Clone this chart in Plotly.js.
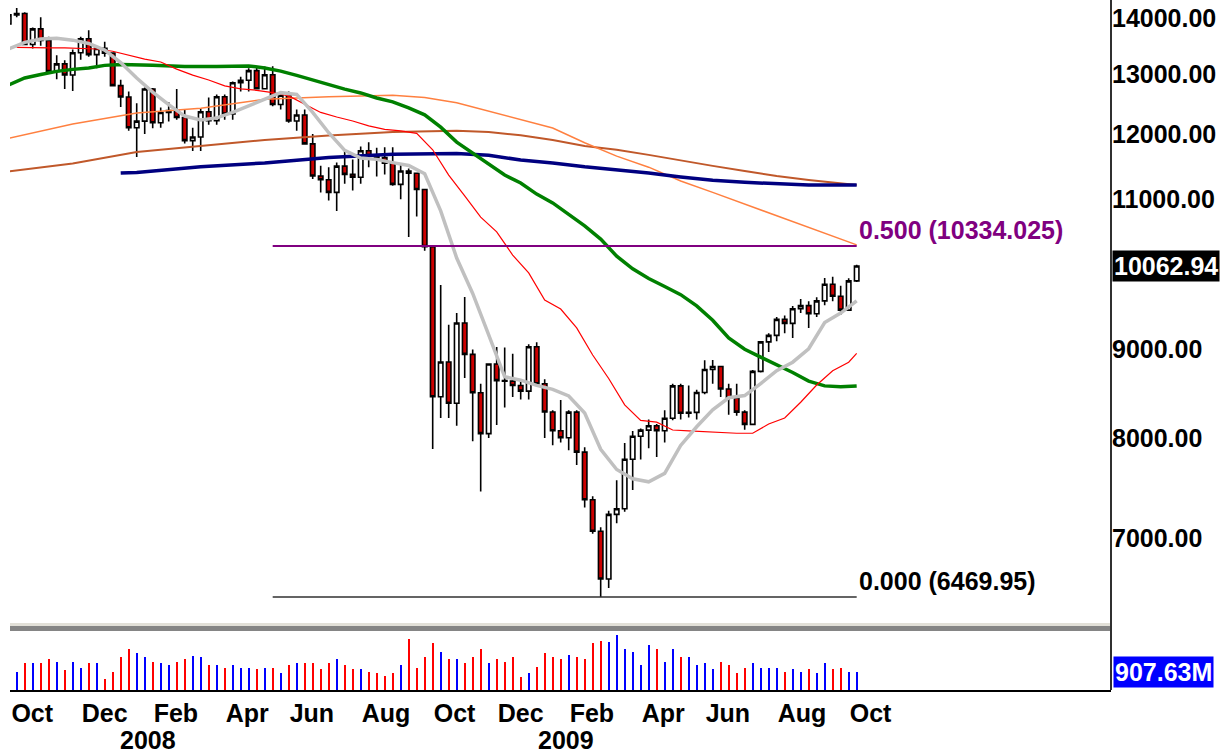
<!DOCTYPE html>
<html><head><meta charset="utf-8">
<script src="https://cdn.plot.ly/plotly-3.0.1.min.js"></script>
<style>body{margin:0;background:#fff}#chart{width:1224px;height:753px}</style>
</head><body><div id="chart"></div>
<script>
// Weekly bars (week starting Monday), index -1 .. 105
const weeks = [
'2007-10-01','2007-10-08','2007-10-15','2007-10-22','2007-10-29','2007-11-05','2007-11-12','2007-11-19','2007-11-26','2007-12-03','2007-12-10','2007-12-17','2007-12-24','2007-12-31',
'2008-01-07','2008-01-14','2008-01-21','2008-01-28','2008-02-04','2008-02-11','2008-02-18','2008-02-25','2008-03-03','2008-03-10','2008-03-17','2008-03-24','2008-03-31','2008-04-07','2008-04-14','2008-04-21','2008-04-28','2008-05-05','2008-05-12','2008-05-19','2008-05-26','2008-06-02','2008-06-09','2008-06-16','2008-06-23','2008-06-30','2008-07-07','2008-07-14','2008-07-21','2008-07-28','2008-08-04','2008-08-11','2008-08-18','2008-08-25','2008-09-01','2008-09-08','2008-09-15','2008-09-22','2008-09-29','2008-10-06','2008-10-13','2008-10-20','2008-10-27','2008-11-03','2008-11-10','2008-11-17','2008-11-24','2008-12-01','2008-12-08','2008-12-15','2008-12-22','2008-12-29',
'2009-01-05','2009-01-12','2009-01-19','2009-01-26','2009-02-02','2009-02-09','2009-02-16','2009-02-23','2009-03-02','2009-03-09','2009-03-16','2009-03-23','2009-03-30','2009-04-06','2009-04-13','2009-04-20','2009-04-27','2009-05-04','2009-05-11','2009-05-18','2009-05-25','2009-06-01','2009-06-08','2009-06-15','2009-06-22','2009-06-29','2009-07-06','2009-07-13','2009-07-20','2009-07-27','2009-08-03','2009-08-10','2009-08-17','2009-08-24','2009-08-31','2009-09-07','2009-09-14','2009-09-21','2009-09-28','2009-10-05','2009-10-12'];

const opens = [13896,14066,14093,13522,13807,13595,13042,13176,12981,13372,13625,13339,13451,13366,
12800,12606,12099,12207,12743,12182,12348,12381,12266,11894,11951,12361,12216,12610,12325,12849,12891,13058,12745,12986,12480,12638,12209,12307,11843,11346,11288,11100,11496,11370,11326,11734,11659,11628,11543,11220,11421,11388,11143,10325,8451,8852,8378,9325,8943,8497,8046,8829,8635,8629,8579,8515,
9034,8599,8281,8077,8001,8280,7850,7366,7063,6627,7224,7279,7776,8018,8083,8131,8076,8212,8575,8268,8277,8500,8764,8799,8540,8438,8280,8146,8743,9093,9172,9370,9321,9505,9544,9441,9605,9820,9665,9487,9865];
const highs = [14115,14198,14117,13830,14020,13660,13330,13240,13430,13660,13780,13460,13570,13380,
12900,12700,12500,12767,12760,12430,12520,12740,12400,12100,12420,12600,12650,12650,12870,12950,13100,13140,13130,13136,12700,12700,12400,12400,12000,11500,11480,11550,11730,11600,11800,11867,11780,11790,11790,11520,11460,11400,11143,10325,9809,9302,9449,9655,9000,8600,8830,9031,9026,8950,8650,9065,
9088,8650,8300,8415,8300,8300,7900,7400,7100,7260,7560,7945,8075,8100,8200,8150,8300,8600,8600,8580,8530,8872,8877,8800,8600,8600,8300,8760,9100,9200,9400,9420,9540,9630,9600,9650,9902,9918,9800,9900,10079];
const lows = [13830,14020,13522,13450,13500,13040,12910,12743,12710,13250,13300,13100,13300,12800,
12440,12050,11635,12000,12090,12100,12200,12230,11850,11730,11730,12150,12150,12230,12230,12700,12700,12740,12740,12450,12400,12180,12050,11830,11300,11100,10980,10827,11230,11130,11230,11479,11340,11370,11200,11000,10460,10750,10270,7882,8214,8214,8130,8665,7965,7449,8000,8138,8330,8450,8420,8420,
8590,8000,7922,7950,7870,7716,7290,7040,6469.95,6548,7140,7250,7463,7772,7891,7800,7950,8190,8200,8220,8200,8480,8600,8450,8250,8240,8087,8140,8730,8970,9100,9200,9140,9450,9263,9400,9550,9600,9430,9480,9850];
const closes = [14066,14093,13522,13807,13595,13042,13176,12981,13372,13625,13339,13451,13366,12800,
12606,12099,12207,12743,12182,12348,12381,12266,11894,11951,12361,12216,12610,12325,12849,12891,13058,12745,12986,12480,12638,12209,12307,11843,11346,11288,11100,11496,11370,11326,11734,11659,11628,11543,11220,11421,11388,11143,10325,8451,8852,8378,9325,8943,8497,8046,8829,8635,8629,8579,8515,9034,
8599,8281,8077,8001,8280,7850,7366,7063,6627,7224,7279,7776,8018,8083,8131,8076,8212,8575,8268,8277,8500,8764,8799,8540,8438,8280,8146,8743,9093,9172,9370,9321,9505,9544,9441,9605,9820,9665,9487,9865,10062.94];
// weekly volume, millions of shares
const volumes = [1100,908,1324,1324,1324,1523,1404,992,1404,1106,1324,1324,531,908,
1622,2019,1820,1622,1404,1324,1225,1404,1523,1701,1622,1225,1225,1106,1225,1106,1106,1027,1106,1106,828,1225,1324,1324,1324,1027,1324,1523,1225,1027,1027,908,828,694,828,1225,2515,1106,1622,2316,1900,1523,1523,1324,1622,2019,1324,1523,1404,1622,630,828,
1126,1820,1622,1523,1721,1622,1523,2316,2415,2400,2728,2019,1900,1225,2217,2019,1404,2019,1622,1622,1225,1324,1027,1404,1225,828,1106,1324,1106,1106,1106,908,1027,908,1027,828,1324,1027,1106,908,907.63];

// Moving averages (bar index -> value)
const grayIdx = [-1,1,3,5,7,9,11,13,15,17,19,21,23,25,27,29,31,33,35,37,39,41,43,45,47,49,51,53,55,57,59,61,63,65,67,69,71,73,75,77,79,81,83,85,87,89,91,93,95,97,99,101,103,105];
const grayVal = [13440,13560,13620,13635,13600,13540,13420,13200,12930,12690,12480,12290,12225,12260,12350,12460,12575,12680,12650,12350,12020,11740,11620,11600,11550,11505,11380,10830,10170,9700,9180,8680,8640,8580,8535,8460,8270,7880,7670,7575,7545,7630,7920,8120,8305,8440,8465,8600,8750,8850,9010,9330,9450,9605];
const redIdx = [0,2,4,6,8,10,12,14,16,18,20,22,24,26,28,30,32,34,36,38,40,42,44,46,48,50,52,54,56,58,60,62,64,66,68,70,72,74,76,78,80,82,84,86,88,90,92,94,96,98,100,102,104,105];
const redVal = [13470,13460,13460,13460,13450,13440,13400,13330,13260,13210,13085,12980,12895,12795,12745,12720,12680,12625,12490,12350,12275,12210,12130,12075,12050,12010,11750,11360,11050,10740,10530,10210,9970,9615,9500,9265,8935,8660,8360,8190,8170,8085,8075,8065,8060,8050,8050,8150,8215,8390,8585,8750,8850,8955];
const greenIdx = [-1,1,3,5,7,9,11,13,17,21,25,29,31,33,35,37,39,41,43,45,47,49,51,53,55,57,59,61,63,65,67,69,71,73,75,77,79,81,83,85,87,89,91,93,95,97,99,101,103,105];
const greenVal = [12810,12930,12990,13045,13080,13105,13150,13165,13150,13130,13130,13140,13105,13050,12975,12895,12825,12740,12675,12590,12525,12425,12310,12110,11870,11700,11530,11360,11240,11075,10945,10785,10615,10430,10195,10025,9895,9790,9685,9540,9360,9140,9005,8910,8820,8730,8630,8575,8565,8575];
const orangeIdx = [-1,7,15,23,31,39,47,51,55,59,63,67,71,75,79,83,87,91,95,99,103,105];
const orangeVal = [11930,12160,12340,12420,12570,12610,12635,12600,12510,12370,12240,12095,11860,11650,11480,11270,11100,10930,10755,10600,10430,10350];
const brownIdx = [-1,7,15,23,31,39,47,55,59,63,67,71,75,79,83,87,91,95,99,103,105];
const brownVal = [11415,11535,11715,11810,11905,11975,12030,12050,12030,11980,11905,11810,11750,11670,11590,11500,11420,11345,11285,11240,11210];
const navyIdx = [13,15,23,31,39,47,55,59,63,67,71,75,79,83,87,91,95,99,103,105];
const navyVal = [11390,11400,11485,11545,11630,11680,11690,11665,11590,11545,11485,11440,11390,11330,11280,11250,11225,11210,11210,11210];

// Fibonacci retracement
const fibStart = '2008-05-19', fibEnd = '2009-10-12';
const fibValues = [10334.025, 6469.95];
const fibLabels = ['0.500 (10334.025)', '0.000 (6469.95)'];
const fibColors = ['#800080', '#000000'];

// Axis labels
const priceTicks = [7000, 8000, 9000, 11000, 12000, 13000, 14000];
const priceTickText = ['7000.00','8000.00','9000.00','11000.00','12000.00','13000.00','14000.00'];
const monthTickDates = ['2007-10-02 12:00','2007-12-03','2008-02-04','2008-04-07','2008-06-02','2008-08-04','2008-10-06','2008-12-01','2009-02-02','2009-04-06','2009-06-01','2009-08-03','2009-10-05'];
const monthLabels = ['Oct','Dec','Feb','Apr','Jun','Aug','Oct','Dec','Feb','Apr','Jun','Aug','Oct'];
const yearLabels = ['2008','2009'];
const yearDates = ['2008-01-31','2009-01-31'];
const lastPrice = 10062.94, lastVolume = 907.63;

const FONT = 'Liberation Sans, Arial, sans-serif';
const FS = 25;
const wk = i => weeks[i + 1];

const maLine = (idx, val, color, width) => ({
  type:'scatter', mode:'lines', x: idx.map(wk), y: val, xaxis:'x', yaxis:'y',
  line:{color:color, width:width}, hoverinfo:'skip'
});

const volColors = closes.map((c, i) => (i === 0 || c >= closes[i-1]) ? '#0000ff' : '#ff0000');

const traces = [
  maLine(brownIdx, brownVal, '#c0582a', 2),
  maLine(orangeIdx, orangeVal, '#ff8040', 1.5),
  maLine(navyIdx, navyVal, '#000080', 3.5),
  maLine(greenIdx, greenVal, '#008000', 3.5),
  maLine(redIdx, redVal, '#ff0000', 1.2),
  maLine(grayIdx, grayVal, '#c0c0c0', 3.5),
  {type:'scatter', mode:'lines', x:[fibStart, fibEnd], y:[fibValues[0], fibValues[0]], line:{color:fibColors[0], width:2}, xaxis:'x', yaxis:'y', hoverinfo:'skip'},
  {type:'scatter', mode:'lines', x:[fibStart, fibEnd], y:[fibValues[1], fibValues[1]], line:{color:'#303030', width:1.6}, xaxis:'x', yaxis:'y', hoverinfo:'skip'},
  {type:'candlestick', x: weeks, open: opens, high: highs, low: lows, close: closes, xaxis:'x', yaxis:'y',
    whiskerwidth:0,
    increasing:{line:{color:'#000000', width:1.6}, fillcolor:'#ffffff'},
    decreasing:{line:{color:'#000000', width:1.6}, fillcolor:'#cc0000'}},
  {type:'bar', x: weeks, y: volumes, xaxis:'x', yaxis:'y2', width: 1.75*86400000,
    marker:{color: volColors, line:{width:0}}}
];

const PLOT_H = 690;
const py = px => (PLOT_H - px) / PLOT_H;

const annotations = [
  {xref:'paper', x:1, xanchor:'left', xshift:1, yref:'y', y:Math.log10(lastPrice), yanchor:'middle',
   text:lastPrice.toFixed(2), showarrow:false, bgcolor:'#000000', borderpad:1,
   font:{family:FONT, size:FS, weight:700, color:'#ffffff'}},
  {xref:'paper', x:1, xanchor:'left', xshift:2, yref:'y2', y:lastVolume, yanchor:'middle',
   text:lastVolume.toFixed(2)+'M', showarrow:false, bgcolor:'#0000ff', borderpad:1,
   font:{family:FONT, size:FS, weight:700, color:'#ffffff'}}
];
fibValues.forEach((v, k) => annotations.push({
  xref:'x', x:fibEnd, xanchor:'left', xshift:0, yref:'y', y:Math.log10(v), yanchor:'bottom',
  text:fibLabels[k], showarrow:false, font:{family:FONT, size:FS, weight:700, color:fibColors[k]}
}));
yearLabels.forEach((t, k) => annotations.push({
  xref:'x', x:yearDates[k], yref:'paper', y:py(740), yanchor:'middle', xanchor:'center',
  text:t, showarrow:false, font:{family:FONT, size:FS, weight:700, color:'#000'}
}));

const layout = {
  width:1224, height:753,
  margin:{l:10, r:113, t:0, b:63, pad:0},
  paper_bgcolor:'#ffffff', plot_bgcolor:'#ffffff',
  showlegend:false, boxgap:0.2, bargap:0,
  font:{family:FONT, size:FS, color:'#000'},
  xaxis:{type:'date', range:['2007-10-02 03:18','2010-05-22 12:55'], anchor:'y2',
    showgrid:false, zeroline:false, showline:true, linecolor:'#000', linewidth:2,
    ticks:'', tickmode:'array', tickvals:monthTickDates, ticktext:monthLabels,
    ticklabelposition:'outside right',
    tickfont:{family:FONT, size:FS, weight:700, color:'#000'},
    rangeslider:{visible:false}, fixedrange:true},
  yaxis:{type:'log', domain:[py(622), 1], range:[3.79643, 4.15680], side:'right', anchor:'x',
    showgrid:false, zeroline:false, showline:false,
    ticks:'', tickmode:'array', tickvals:priceTicks, ticktext:priceTickText,
    tickfont:{family:FONT, size:FS, weight:700, color:'#000'}, fixedrange:true},
  yaxis2:{domain:[0, py(634)], range:[0, 2778], side:'right', anchor:'x',
    showgrid:false, zeroline:false, showline:false, showticklabels:false, ticks:'', fixedrange:true},
  shapes:[
    {type:'rect', xref:'paper', yref:'paper', x0:0, x1:1, y0:py(626), y1:py(623), fillcolor:'#e2e0d8', line:{width:0}},
    {type:'rect', xref:'paper', yref:'paper', x0:0, x1:1, y0:py(631), y1:py(626), fillcolor:'#858585', line:{width:0}},
    {type:'line', xref:'paper', yref:'paper', x0:1, x1:1, y0:0, y1:py(0), line:{color:'#303030', width:2}}
  ],
  annotations: annotations
};

Plotly.newPlot('chart', traces, layout, {displayModeBar:false, staticPlot:true});
</script>
</body></html>
